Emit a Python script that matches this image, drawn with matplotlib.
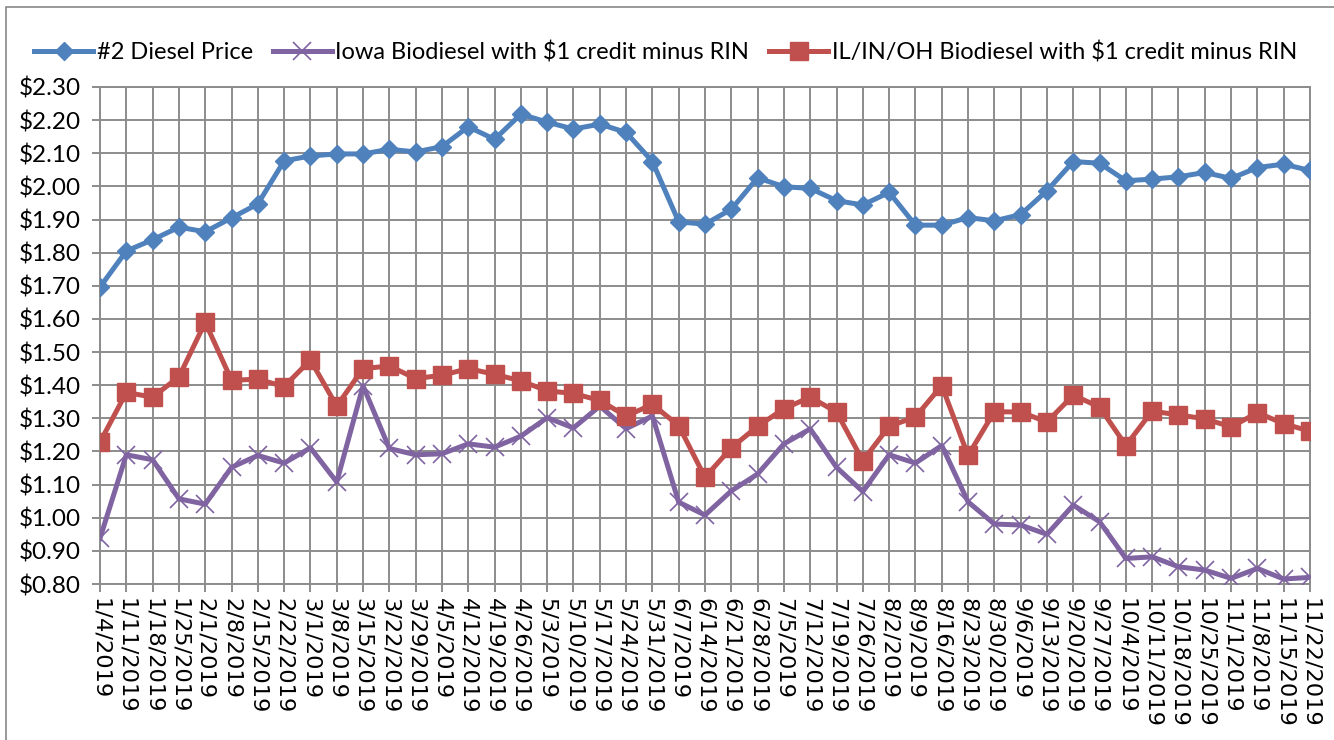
import matplotlib
matplotlib.use("Agg")
import matplotlib.pyplot as plt
from matplotlib.patches import Rectangle
from matplotlib.ticker import FuncFormatter, MultipleLocator

dates = ["1/4/2019", "1/11/2019", "1/18/2019", "1/25/2019", "2/1/2019", "2/8/2019",
         "2/15/2019", "2/22/2019", "3/1/2019", "3/8/2019", "3/15/2019", "3/22/2019",
         "3/29/2019", "4/5/2019", "4/12/2019", "4/19/2019", "4/26/2019", "5/3/2019",
         "5/10/2019", "5/17/2019", "5/24/2019", "5/31/2019", "6/7/2019", "6/14/2019",
         "6/21/2019", "6/28/2019", "7/5/2019", "7/12/2019", "7/19/2019", "7/26/2019",
         "8/2/2019", "8/9/2019", "8/16/2019", "8/23/2019", "8/30/2019", "9/6/2019",
         "9/13/2019", "9/20/2019", "9/27/2019", "10/4/2019", "10/11/2019", "10/18/2019",
         "10/25/2019", "11/1/2019", "11/8/2019", "11/15/2019", "11/22/2019"]

diesel = [1.696, 1.805, 1.839, 1.877, 1.863, 1.905, 1.947, 2.077, 2.092, 2.098,
          2.098, 2.112, 2.104, 2.120, 2.180, 2.142, 2.218, 2.194, 2.173, 2.188,
          2.163, 2.075, 1.893, 1.886, 1.931, 2.026, 1.999, 1.994, 1.957, 1.944,
          1.982, 1.883, 1.883, 1.906, 1.896, 1.915, 1.987, 2.075, 2.070, 2.017,
          2.022, 2.029, 2.042, 2.024, 2.057, 2.067, 2.048]

iowa = [0.938, 1.190, 1.175, 1.057, 1.041, 1.152, 1.188, 1.165, 1.211, 1.108,
        1.398, 1.209, 1.190, 1.193, 1.223, 1.213, 1.246, 1.302, 1.271, 1.337,
        1.269, 1.307, 1.047, 1.008, 1.081, 1.132, 1.223, 1.268, 1.152, 1.079,
        1.190, 1.165, 1.218, 1.048, 0.981, 0.978, 0.950, 1.038, 0.988, 0.877,
        0.882, 0.852, 0.842, 0.817, 0.847, 0.815, 0.820]

ilinoh = [1.228, 1.378, 1.364, 1.425, 1.590, 1.415, 1.418, 1.396, 1.476, 1.337,
          1.450, 1.458, 1.420, 1.430, 1.450, 1.433, 1.413, 1.383, 1.375, 1.354,
          1.307, 1.342, 1.278, 1.122, 1.211, 1.276, 1.329, 1.364, 1.319, 1.172,
          1.276, 1.304, 1.399, 1.188, 1.320, 1.319, 1.289, 1.370, 1.334, 1.218,
          1.322, 1.310, 1.299, 1.274, 1.317, 1.284, 1.261]

series_names = ["#2 Diesel Price",
                "Iowa Biodiesel with $1 credit minus RIN",
                "IL/IN/OH Biodiesel with $1 credit minus RIN"]

W, H = 1334, 740
fig = plt.figure(figsize=(W / 100, H / 100), dpi=100)
fig.patch.set_facecolor("white")

ax = fig.add_axes([100 / W, 1 - 584 / H, 1210 / W, 497 / H])

x = list(range(len(dates)))
gray = "#8c8c8c"

l1, = ax.plot(x, diesel, color="#4F81BD", lw=3.6, marker="D", ms=9.5,
              markerfacecolor="#4F81BD", markeredgecolor="#4F81BD", zorder=4)
l2, = ax.plot(x, iowa, color="#8064A2", lw=3.6, marker="x", ms=13,
              markeredgewidth=1.2, markeredgecolor="#8064A2", zorder=3)
l3, = ax.plot(x, ilinoh, color="#C0504D", lw=3.6, marker="s", ms=13,
              markerfacecolor="#C0504D", markeredgecolor="#C0504D", zorder=3)

ax.set_xlim(0, len(dates) - 1)
ax.set_ylim(0.80, 2.30)
ax.yaxis.set_major_locator(MultipleLocator(0.10))
ax.yaxis.set_major_formatter(FuncFormatter(lambda v, p: f"${v:.2f}"))
ax.set_xticks(x)
ax.set_xticklabels(dates, rotation=-90, ha="center", va="top",
                   fontsize=16.2, family="DejaVu Sans")
for lab in ax.get_yticklabels():
    lab.set_family(["Lato", "DejaVu Sans"])
    lab.set_fontsize(17.5)

ax.grid(True, color=gray, lw=1.4)
ax.set_axisbelow(True)
for s in ax.spines.values():
    s.set_color(gray)
    s.set_linewidth(1.4)
ax.tick_params(axis="both", direction="out", length=6, width=1.4, color=gray,
               pad=4)
ax.tick_params(axis="y", pad=8)

leg = fig.legend([l1, l2, l3], series_names, loc="center left",
                 bbox_to_anchor=(34 / W, 1 - 52 / H), ncol=3, frameon=False,
                 prop={"family": ["Lato", "DejaVu Sans"], "size": 17.0},
                 handlelength=2.5, handletextpad=0.15, columnspacing=0.85,
                 borderpad=0, borderaxespad=0)

fig.add_artist(Rectangle((6 / W, -0.05), 1.2, 1 - 7 / H + 0.05,
                         transform=fig.transFigure, fill=False,
                         edgecolor="#888888", lw=1.2))

fig.savefig("out.png", dpi=100, facecolor="white")
